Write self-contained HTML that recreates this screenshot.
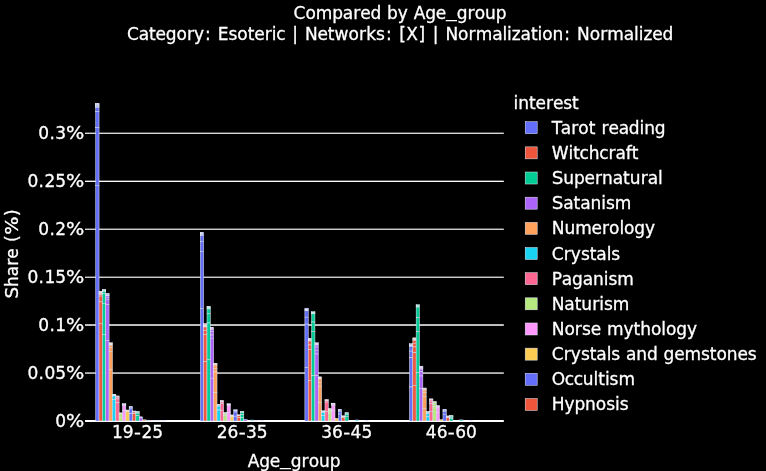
<!DOCTYPE html>
<html lang="en"><head><meta charset="utf-8"><title>Compared by Age_group</title>
<style>html,body{margin:0;padding:0;background:#000;}body{width:766px;height:471px;overflow:hidden;}svg{display:block;}text{font-family:"DejaVu Sans", Verdana, "Liberation Sans", sans-serif;font-size:17px;fill:#fff;stroke:#fff;stroke-width:0.3px;}</style></head><body>
<svg width="766" height="471" viewBox="0 0 766 471">
<rect width="766" height="471" fill="#000"/>
<g fill="#fff">
<rect x="85.0" y="372" width="418.8" height="1" fill-opacity="0.588"/>
<rect x="85.0" y="373" width="418.8" height="1" fill-opacity="0.706"/>
<rect x="85.0" y="324" width="418.8" height="1" fill-opacity="0.725"/>
<rect x="85.0" y="325" width="418.8" height="1" fill-opacity="0.765"/>
<rect x="85.0" y="276" width="418.8" height="1" fill-opacity="0.353"/>
<rect x="85.0" y="277" width="418.8" height="1" fill-opacity="0.804"/>
<rect x="85.0" y="228" width="418.8" height="1" fill-opacity="0.353"/>
<rect x="85.0" y="229" width="418.8" height="1" fill-opacity="0.804"/>
<rect x="85.0" y="180" width="418.8" height="1" fill-opacity="0.353"/>
<rect x="85.0" y="181" width="418.8" height="1" fill-opacity="0.980"/>
<rect x="85.0" y="132" width="418.8" height="1" fill-opacity="0.333"/>
<rect x="85.0" y="133" width="418.8" height="1" fill-opacity="0.843"/>
</g>
<line x1="85.0" x2="503.8" y1="420.90" y2="420.90" stroke="#fff" stroke-width="2"/>
<g stroke="#E5ECF6" stroke-width="0.5">
<rect x="95.71" y="103.40" width="3.35" height="0.55" fill="#636efa"/>
<rect x="95.71" y="103.95" width="3.35" height="0.55" fill="#636efa"/>
<rect x="95.71" y="104.50" width="3.35" height="0.55" fill="#636efa"/>
<rect x="95.71" y="105.05" width="3.35" height="0.55" fill="#636efa"/>
<rect x="95.71" y="105.60" width="3.35" height="0.55" fill="#636efa"/>
<rect x="95.71" y="106.15" width="3.35" height="0.55" fill="#636efa"/>
<rect x="95.71" y="106.70" width="3.35" height="1.10" fill="#636efa"/>
<rect x="95.71" y="107.80" width="3.35" height="4.00" fill="#636efa"/>
<rect x="95.71" y="111.80" width="3.35" height="15.80" fill="#636efa"/>
<rect x="95.71" y="127.60" width="3.35" height="57.70" fill="#636efa"/>
<rect x="95.71" y="185.30" width="3.35" height="235.70" fill="#636efa"/>
<rect x="99.06" y="291.30" width="3.35" height="0.57" fill="#EF553B"/>
<rect x="99.06" y="291.87" width="3.35" height="0.57" fill="#EF553B"/>
<rect x="99.06" y="292.43" width="3.35" height="0.57" fill="#EF553B"/>
<rect x="99.06" y="293.00" width="3.35" height="0.57" fill="#EF553B"/>
<rect x="99.06" y="293.57" width="3.35" height="0.57" fill="#EF553B"/>
<rect x="99.06" y="294.13" width="3.35" height="0.57" fill="#EF553B"/>
<rect x="99.06" y="294.70" width="3.35" height="1.40" fill="#EF553B"/>
<rect x="99.06" y="296.10" width="3.35" height="5.80" fill="#EF553B"/>
<rect x="99.06" y="301.90" width="3.35" height="21.60" fill="#EF553B"/>
<rect x="99.06" y="323.50" width="3.35" height="97.50" fill="#EF553B"/>
<rect x="102.40" y="289.50" width="3.35" height="0.55" fill="#00cc96"/>
<rect x="102.40" y="290.05" width="3.35" height="0.55" fill="#00cc96"/>
<rect x="102.40" y="290.60" width="3.35" height="0.55" fill="#00cc96"/>
<rect x="102.40" y="291.15" width="3.35" height="0.55" fill="#00cc96"/>
<rect x="102.40" y="291.70" width="3.35" height="1.80" fill="#00cc96"/>
<rect x="102.40" y="293.50" width="3.35" height="10.00" fill="#00cc96"/>
<rect x="102.40" y="303.50" width="3.35" height="31.00" fill="#00cc96"/>
<rect x="102.40" y="334.50" width="3.35" height="86.50" fill="#00cc96"/>
<rect x="105.75" y="293.50" width="3.35" height="0.57" fill="#ab63fa"/>
<rect x="105.75" y="294.07" width="3.35" height="0.58" fill="#ab63fa"/>
<rect x="105.75" y="294.65" width="3.35" height="0.57" fill="#ab63fa"/>
<rect x="105.75" y="295.23" width="3.35" height="0.57" fill="#ab63fa"/>
<rect x="105.75" y="295.80" width="3.35" height="1.40" fill="#ab63fa"/>
<rect x="105.75" y="297.20" width="3.35" height="2.00" fill="#ab63fa"/>
<rect x="105.75" y="299.20" width="3.35" height="5.40" fill="#ab63fa"/>
<rect x="105.75" y="304.60" width="3.35" height="36.00" fill="#ab63fa"/>
<rect x="105.75" y="340.60" width="3.35" height="80.40" fill="#ab63fa"/>
<rect x="109.10" y="342.70" width="3.35" height="0.54" fill="#FFA15A"/>
<rect x="109.10" y="343.24" width="3.35" height="0.54" fill="#FFA15A"/>
<rect x="109.10" y="343.78" width="3.35" height="0.54" fill="#FFA15A"/>
<rect x="109.10" y="344.32" width="3.35" height="0.54" fill="#FFA15A"/>
<rect x="109.10" y="344.86" width="3.35" height="0.54" fill="#FFA15A"/>
<rect x="109.10" y="345.40" width="3.35" height="2.10" fill="#FFA15A"/>
<rect x="109.10" y="347.50" width="3.35" height="3.70" fill="#FFA15A"/>
<rect x="109.10" y="351.20" width="3.35" height="18.60" fill="#FFA15A"/>
<rect x="109.10" y="369.80" width="3.35" height="51.20" fill="#FFA15A"/>
<rect x="112.44" y="394.30" width="3.35" height="0.53" fill="#19d3f3"/>
<rect x="112.44" y="394.83" width="3.35" height="0.53" fill="#19d3f3"/>
<rect x="112.44" y="395.37" width="3.35" height="0.53" fill="#19d3f3"/>
<rect x="112.44" y="395.90" width="3.35" height="3.60" fill="#19d3f3"/>
<rect x="112.44" y="399.50" width="3.35" height="21.50" fill="#19d3f3"/>
<rect x="115.79" y="395.90" width="3.35" height="0.65" fill="#FF6692"/>
<rect x="115.79" y="396.55" width="3.35" height="0.65" fill="#FF6692"/>
<rect x="115.79" y="397.20" width="3.35" height="1.80" fill="#FF6692"/>
<rect x="115.79" y="399.00" width="3.35" height="3.70" fill="#FF6692"/>
<rect x="115.79" y="402.70" width="3.35" height="18.30" fill="#FF6692"/>
<rect x="119.14" y="412.80" width="3.35" height="0.65" fill="#B6E880"/>
<rect x="119.14" y="413.45" width="3.35" height="0.65" fill="#B6E880"/>
<rect x="119.14" y="414.10" width="3.35" height="3.70" fill="#B6E880"/>
<rect x="119.14" y="417.80" width="3.35" height="3.20" fill="#B6E880"/>
<rect x="122.48" y="403.70" width="3.35" height="0.50" fill="#FF97FF"/>
<rect x="122.48" y="404.20" width="3.35" height="0.50" fill="#FF97FF"/>
<rect x="122.48" y="404.70" width="3.35" height="0.50" fill="#FF97FF"/>
<rect x="122.48" y="405.20" width="3.35" height="5.30" fill="#FF97FF"/>
<rect x="122.48" y="410.50" width="3.35" height="10.50" fill="#FF97FF"/>
<rect x="125.83" y="410.00" width="3.35" height="0.50" fill="#FECB52"/>
<rect x="125.83" y="410.50" width="3.35" height="0.50" fill="#FECB52"/>
<rect x="125.83" y="411.00" width="3.35" height="0.50" fill="#FECB52"/>
<rect x="125.83" y="411.50" width="3.35" height="9.50" fill="#FECB52"/>
<rect x="129.18" y="406.50" width="3.35" height="0.55" fill="#636efa"/>
<rect x="129.18" y="407.05" width="3.35" height="0.55" fill="#636efa"/>
<rect x="129.18" y="407.60" width="3.35" height="1.30" fill="#636efa"/>
<rect x="129.18" y="408.90" width="3.35" height="4.70" fill="#636efa"/>
<rect x="129.18" y="413.60" width="3.35" height="7.40" fill="#636efa"/>
<rect x="132.52" y="411.00" width="3.35" height="0.55" fill="#EF553B"/>
<rect x="132.52" y="411.55" width="3.35" height="0.55" fill="#EF553B"/>
<rect x="132.52" y="412.10" width="3.35" height="1.50" fill="#EF553B"/>
<rect x="132.52" y="413.60" width="3.35" height="7.40" fill="#EF553B"/>
<rect x="135.87" y="411.50" width="3.35" height="0.57" fill="#00cc96"/>
<rect x="135.87" y="412.07" width="3.35" height="0.57" fill="#00cc96"/>
<rect x="135.87" y="412.63" width="3.35" height="0.57" fill="#00cc96"/>
<rect x="135.87" y="413.20" width="3.35" height="2.50" fill="#00cc96"/>
<rect x="135.87" y="415.70" width="3.35" height="5.30" fill="#00cc96"/>
<rect x="139.22" y="416.80" width="3.35" height="0.55" fill="#ab63fa"/>
<rect x="139.22" y="417.35" width="3.35" height="0.55" fill="#ab63fa"/>
<rect x="139.22" y="417.90" width="3.35" height="3.10" fill="#ab63fa"/>
<rect x="142.56" y="419.80" width="3.35" height="1.20" fill="#FFA15A"/>
<rect x="145.91" y="420.20" width="3.35" height="0.80" fill="#19d3f3"/>
<rect x="149.26" y="420.30" width="3.35" height="0.70" fill="#FF6692"/>
<rect x="152.60" y="420.40" width="3.35" height="0.60" fill="#B6E880"/>
<rect x="155.95" y="420.50" width="3.35" height="0.50" fill="#FF97FF"/>
<rect x="159.30" y="420.60" width="3.35" height="0.40" fill="#FECB52"/>
<rect x="162.64" y="420.70" width="3.35" height="0.30" fill="#636efa"/>
<rect x="200.30" y="232.40" width="3.35" height="0.55" fill="#636efa"/>
<rect x="200.30" y="232.95" width="3.35" height="0.55" fill="#636efa"/>
<rect x="200.30" y="233.50" width="3.35" height="0.55" fill="#636efa"/>
<rect x="200.30" y="234.05" width="3.35" height="0.55" fill="#636efa"/>
<rect x="200.30" y="234.60" width="3.35" height="0.55" fill="#636efa"/>
<rect x="200.30" y="235.15" width="3.35" height="0.55" fill="#636efa"/>
<rect x="200.30" y="235.70" width="3.35" height="5.90" fill="#636efa"/>
<rect x="200.30" y="241.60" width="3.35" height="9.90" fill="#636efa"/>
<rect x="200.30" y="251.50" width="3.35" height="57.00" fill="#636efa"/>
<rect x="200.30" y="308.50" width="3.35" height="112.50" fill="#636efa"/>
<rect x="203.64" y="323.60" width="3.35" height="0.57" fill="#EF553B"/>
<rect x="203.64" y="324.17" width="3.35" height="0.57" fill="#EF553B"/>
<rect x="203.64" y="324.73" width="3.35" height="0.57" fill="#EF553B"/>
<rect x="203.64" y="325.30" width="3.35" height="0.57" fill="#EF553B"/>
<rect x="203.64" y="325.87" width="3.35" height="0.57" fill="#EF553B"/>
<rect x="203.64" y="326.43" width="3.35" height="0.57" fill="#EF553B"/>
<rect x="203.64" y="327.00" width="3.35" height="3.20" fill="#EF553B"/>
<rect x="203.64" y="330.20" width="3.35" height="4.30" fill="#EF553B"/>
<rect x="203.64" y="334.50" width="3.35" height="26.90" fill="#EF553B"/>
<rect x="203.64" y="361.40" width="3.35" height="59.60" fill="#EF553B"/>
<rect x="206.99" y="306.30" width="3.35" height="0.54" fill="#00cc96"/>
<rect x="206.99" y="306.84" width="3.35" height="0.54" fill="#00cc96"/>
<rect x="206.99" y="307.38" width="3.35" height="0.54" fill="#00cc96"/>
<rect x="206.99" y="307.92" width="3.35" height="0.54" fill="#00cc96"/>
<rect x="206.99" y="308.46" width="3.35" height="0.54" fill="#00cc96"/>
<rect x="206.99" y="309.00" width="3.35" height="4.80" fill="#00cc96"/>
<rect x="206.99" y="313.80" width="3.35" height="9.20" fill="#00cc96"/>
<rect x="206.99" y="323.00" width="3.35" height="36.80" fill="#00cc96"/>
<rect x="206.99" y="359.80" width="3.35" height="61.20" fill="#00cc96"/>
<rect x="210.34" y="327.30" width="3.35" height="0.60" fill="#ab63fa"/>
<rect x="210.34" y="327.90" width="3.35" height="0.60" fill="#ab63fa"/>
<rect x="210.34" y="328.50" width="3.35" height="0.60" fill="#ab63fa"/>
<rect x="210.34" y="329.10" width="3.35" height="0.60" fill="#ab63fa"/>
<rect x="210.34" y="329.70" width="3.35" height="2.10" fill="#ab63fa"/>
<rect x="210.34" y="331.80" width="3.35" height="3.20" fill="#ab63fa"/>
<rect x="210.34" y="335.00" width="3.35" height="3.20" fill="#ab63fa"/>
<rect x="210.34" y="338.20" width="3.35" height="40.00" fill="#ab63fa"/>
<rect x="210.34" y="378.20" width="3.35" height="42.80" fill="#ab63fa"/>
<rect x="213.68" y="363.30" width="3.35" height="0.60" fill="#FFA15A"/>
<rect x="213.68" y="363.90" width="3.35" height="0.60" fill="#FFA15A"/>
<rect x="213.68" y="364.50" width="3.35" height="0.60" fill="#FFA15A"/>
<rect x="213.68" y="365.10" width="3.35" height="3.20" fill="#FFA15A"/>
<rect x="213.68" y="368.30" width="3.35" height="3.70" fill="#FFA15A"/>
<rect x="213.68" y="372.00" width="3.35" height="20.50" fill="#FFA15A"/>
<rect x="213.68" y="392.50" width="3.35" height="28.50" fill="#FFA15A"/>
<rect x="217.03" y="404.40" width="3.35" height="0.55" fill="#19d3f3"/>
<rect x="217.03" y="404.95" width="3.35" height="0.55" fill="#19d3f3"/>
<rect x="217.03" y="405.50" width="3.35" height="0.70" fill="#19d3f3"/>
<rect x="217.03" y="406.20" width="3.35" height="3.80" fill="#19d3f3"/>
<rect x="217.03" y="410.00" width="3.35" height="11.00" fill="#19d3f3"/>
<rect x="220.38" y="400.60" width="3.35" height="0.47" fill="#FF6692"/>
<rect x="220.38" y="401.07" width="3.35" height="0.47" fill="#FF6692"/>
<rect x="220.38" y="401.53" width="3.35" height="0.47" fill="#FF6692"/>
<rect x="220.38" y="402.00" width="3.35" height="1.70" fill="#FF6692"/>
<rect x="220.38" y="403.70" width="3.35" height="6.80" fill="#FF6692"/>
<rect x="220.38" y="410.50" width="3.35" height="10.50" fill="#FF6692"/>
<rect x="223.72" y="412.60" width="3.35" height="0.55" fill="#B6E880"/>
<rect x="223.72" y="413.15" width="3.35" height="0.55" fill="#B6E880"/>
<rect x="223.72" y="413.70" width="3.35" height="2.00" fill="#B6E880"/>
<rect x="223.72" y="415.70" width="3.35" height="5.30" fill="#B6E880"/>
<rect x="227.07" y="403.70" width="3.35" height="0.55" fill="#FF97FF"/>
<rect x="227.07" y="404.25" width="3.35" height="0.55" fill="#FF97FF"/>
<rect x="227.07" y="404.80" width="3.35" height="0.90" fill="#FF97FF"/>
<rect x="227.07" y="405.70" width="3.35" height="6.90" fill="#FF97FF"/>
<rect x="227.07" y="412.60" width="3.35" height="8.40" fill="#FF97FF"/>
<rect x="230.42" y="414.90" width="3.35" height="0.55" fill="#FECB52"/>
<rect x="230.42" y="415.45" width="3.35" height="0.55" fill="#FECB52"/>
<rect x="230.42" y="416.00" width="3.35" height="0.80" fill="#FECB52"/>
<rect x="230.42" y="416.80" width="3.35" height="4.20" fill="#FECB52"/>
<rect x="233.76" y="409.70" width="3.35" height="0.55" fill="#636efa"/>
<rect x="233.76" y="410.25" width="3.35" height="0.55" fill="#636efa"/>
<rect x="233.76" y="410.80" width="3.35" height="1.20" fill="#636efa"/>
<rect x="233.76" y="412.00" width="3.35" height="4.20" fill="#636efa"/>
<rect x="233.76" y="416.20" width="3.35" height="4.80" fill="#636efa"/>
<rect x="237.11" y="414.70" width="3.35" height="0.55" fill="#EF553B"/>
<rect x="237.11" y="415.25" width="3.35" height="0.55" fill="#EF553B"/>
<rect x="237.11" y="415.80" width="3.35" height="2.00" fill="#EF553B"/>
<rect x="237.11" y="417.80" width="3.35" height="3.20" fill="#EF553B"/>
<rect x="240.46" y="411.50" width="3.35" height="0.55" fill="#00cc96"/>
<rect x="240.46" y="412.05" width="3.35" height="0.55" fill="#00cc96"/>
<rect x="240.46" y="412.60" width="3.35" height="2.10" fill="#00cc96"/>
<rect x="240.46" y="414.70" width="3.35" height="3.10" fill="#00cc96"/>
<rect x="240.46" y="417.80" width="3.35" height="3.20" fill="#00cc96"/>
<rect x="243.80" y="419.40" width="3.35" height="1.60" fill="#ab63fa"/>
<rect x="250.50" y="420.10" width="3.35" height="0.90" fill="#19d3f3"/>
<rect x="253.85" y="420.60" width="3.35" height="0.40" fill="#FF6692"/>
<rect x="260.54" y="420.30" width="3.35" height="0.70" fill="#FF97FF"/>
<rect x="304.88" y="308.20" width="3.35" height="0.52" fill="#636efa"/>
<rect x="304.88" y="308.72" width="3.35" height="0.52" fill="#636efa"/>
<rect x="304.88" y="309.24" width="3.35" height="0.52" fill="#636efa"/>
<rect x="304.88" y="309.76" width="3.35" height="0.52" fill="#636efa"/>
<rect x="304.88" y="310.28" width="3.35" height="0.52" fill="#636efa"/>
<rect x="304.88" y="310.80" width="3.35" height="6.40" fill="#636efa"/>
<rect x="304.88" y="317.20" width="3.35" height="6.90" fill="#636efa"/>
<rect x="304.88" y="324.10" width="3.35" height="43.50" fill="#636efa"/>
<rect x="304.88" y="367.60" width="3.35" height="53.40" fill="#636efa"/>
<rect x="308.23" y="338.40" width="3.35" height="0.52" fill="#EF553B"/>
<rect x="308.23" y="338.92" width="3.35" height="0.52" fill="#EF553B"/>
<rect x="308.23" y="339.44" width="3.35" height="0.52" fill="#EF553B"/>
<rect x="308.23" y="339.96" width="3.35" height="0.52" fill="#EF553B"/>
<rect x="308.23" y="340.48" width="3.35" height="0.52" fill="#EF553B"/>
<rect x="308.23" y="341.00" width="3.35" height="4.00" fill="#EF553B"/>
<rect x="308.23" y="345.00" width="3.35" height="4.70" fill="#EF553B"/>
<rect x="308.23" y="349.70" width="3.35" height="30.80" fill="#EF553B"/>
<rect x="308.23" y="380.50" width="3.35" height="40.50" fill="#EF553B"/>
<rect x="311.58" y="311.70" width="3.35" height="0.52" fill="#00cc96"/>
<rect x="311.58" y="312.22" width="3.35" height="0.53" fill="#00cc96"/>
<rect x="311.58" y="312.75" width="3.35" height="0.53" fill="#00cc96"/>
<rect x="311.58" y="313.28" width="3.35" height="0.52" fill="#00cc96"/>
<rect x="311.58" y="313.80" width="3.35" height="8.20" fill="#00cc96"/>
<rect x="311.58" y="322.00" width="3.35" height="9.50" fill="#00cc96"/>
<rect x="311.58" y="331.50" width="3.35" height="44.20" fill="#00cc96"/>
<rect x="311.58" y="375.70" width="3.35" height="45.30" fill="#00cc96"/>
<rect x="314.92" y="342.70" width="3.35" height="0.57" fill="#ab63fa"/>
<rect x="314.92" y="343.27" width="3.35" height="0.57" fill="#ab63fa"/>
<rect x="314.92" y="343.85" width="3.35" height="0.58" fill="#ab63fa"/>
<rect x="314.92" y="344.43" width="3.35" height="0.57" fill="#ab63fa"/>
<rect x="314.92" y="345.00" width="3.35" height="2.10" fill="#ab63fa"/>
<rect x="314.92" y="347.10" width="3.35" height="3.10" fill="#ab63fa"/>
<rect x="314.92" y="350.20" width="3.35" height="3.80" fill="#ab63fa"/>
<rect x="314.92" y="354.00" width="3.35" height="21.70" fill="#ab63fa"/>
<rect x="314.92" y="375.70" width="3.35" height="45.30" fill="#ab63fa"/>
<rect x="318.27" y="376.80" width="3.35" height="0.52" fill="#FFA15A"/>
<rect x="318.27" y="377.32" width="3.35" height="0.52" fill="#FFA15A"/>
<rect x="318.27" y="377.85" width="3.35" height="0.53" fill="#FFA15A"/>
<rect x="318.27" y="378.38" width="3.35" height="0.52" fill="#FFA15A"/>
<rect x="318.27" y="378.90" width="3.35" height="3.50" fill="#FFA15A"/>
<rect x="318.27" y="382.40" width="3.35" height="4.10" fill="#FFA15A"/>
<rect x="318.27" y="386.50" width="3.35" height="16.20" fill="#FFA15A"/>
<rect x="318.27" y="402.70" width="3.35" height="18.30" fill="#FFA15A"/>
<rect x="321.62" y="410.70" width="3.35" height="0.55" fill="#19d3f3"/>
<rect x="321.62" y="411.25" width="3.35" height="0.55" fill="#19d3f3"/>
<rect x="321.62" y="411.80" width="3.35" height="0.80" fill="#19d3f3"/>
<rect x="321.62" y="412.60" width="3.35" height="3.10" fill="#19d3f3"/>
<rect x="321.62" y="415.70" width="3.35" height="5.30" fill="#19d3f3"/>
<rect x="324.96" y="399.50" width="3.35" height="0.65" fill="#FF6692"/>
<rect x="324.96" y="400.15" width="3.35" height="0.65" fill="#FF6692"/>
<rect x="324.96" y="400.80" width="3.35" height="1.30" fill="#FF6692"/>
<rect x="324.96" y="402.10" width="3.35" height="9.40" fill="#FF6692"/>
<rect x="324.96" y="411.50" width="3.35" height="9.50" fill="#FF6692"/>
<rect x="328.31" y="408.60" width="3.35" height="0.55" fill="#B6E880"/>
<rect x="328.31" y="409.15" width="3.35" height="0.55" fill="#B6E880"/>
<rect x="328.31" y="409.70" width="3.35" height="1.30" fill="#B6E880"/>
<rect x="328.31" y="411.00" width="3.35" height="2.10" fill="#B6E880"/>
<rect x="328.31" y="413.10" width="3.35" height="7.90" fill="#B6E880"/>
<rect x="331.66" y="403.20" width="3.35" height="0.55" fill="#FF97FF"/>
<rect x="331.66" y="403.75" width="3.35" height="0.55" fill="#FF97FF"/>
<rect x="331.66" y="404.30" width="3.35" height="0.90" fill="#FF97FF"/>
<rect x="331.66" y="405.20" width="3.35" height="5.30" fill="#FF97FF"/>
<rect x="331.66" y="410.50" width="3.35" height="10.50" fill="#FF97FF"/>
<rect x="335.00" y="418.30" width="3.35" height="2.70" fill="#FECB52"/>
<rect x="338.35" y="409.40" width="3.35" height="0.55" fill="#636efa"/>
<rect x="338.35" y="409.95" width="3.35" height="0.55" fill="#636efa"/>
<rect x="338.35" y="410.50" width="3.35" height="1.00" fill="#636efa"/>
<rect x="338.35" y="411.50" width="3.35" height="2.60" fill="#636efa"/>
<rect x="338.35" y="414.10" width="3.35" height="6.90" fill="#636efa"/>
<rect x="341.70" y="415.70" width="3.35" height="0.55" fill="#EF553B"/>
<rect x="341.70" y="416.25" width="3.35" height="0.55" fill="#EF553B"/>
<rect x="341.70" y="416.80" width="3.35" height="1.00" fill="#EF553B"/>
<rect x="341.70" y="417.80" width="3.35" height="3.20" fill="#EF553B"/>
<rect x="345.05" y="412.60" width="3.35" height="0.55" fill="#00cc96"/>
<rect x="345.05" y="413.15" width="3.35" height="0.55" fill="#00cc96"/>
<rect x="345.05" y="413.70" width="3.35" height="1.00" fill="#00cc96"/>
<rect x="345.05" y="414.70" width="3.35" height="2.10" fill="#00cc96"/>
<rect x="345.05" y="416.80" width="3.35" height="4.20" fill="#00cc96"/>
<rect x="355.09" y="420.00" width="3.35" height="1.00" fill="#19d3f3"/>
<rect x="365.13" y="420.30" width="3.35" height="0.70" fill="#FF97FF"/>
<rect x="409.47" y="343.70" width="3.35" height="0.52" fill="#636efa"/>
<rect x="409.47" y="344.22" width="3.35" height="0.52" fill="#636efa"/>
<rect x="409.47" y="344.74" width="3.35" height="0.52" fill="#636efa"/>
<rect x="409.47" y="345.26" width="3.35" height="0.52" fill="#636efa"/>
<rect x="409.47" y="345.78" width="3.35" height="0.52" fill="#636efa"/>
<rect x="409.47" y="346.30" width="3.35" height="4.80" fill="#636efa"/>
<rect x="409.47" y="351.10" width="3.35" height="6.60" fill="#636efa"/>
<rect x="409.47" y="357.70" width="3.35" height="29.30" fill="#636efa"/>
<rect x="409.47" y="387.00" width="3.35" height="34.00" fill="#636efa"/>
<rect x="412.82" y="337.80" width="3.35" height="0.54" fill="#EF553B"/>
<rect x="412.82" y="338.34" width="3.35" height="0.54" fill="#EF553B"/>
<rect x="412.82" y="338.88" width="3.35" height="0.54" fill="#EF553B"/>
<rect x="412.82" y="339.42" width="3.35" height="0.54" fill="#EF553B"/>
<rect x="412.82" y="339.96" width="3.35" height="0.54" fill="#EF553B"/>
<rect x="412.82" y="340.50" width="3.35" height="2.70" fill="#EF553B"/>
<rect x="412.82" y="343.20" width="3.35" height="3.70" fill="#EF553B"/>
<rect x="412.82" y="346.90" width="3.35" height="5.80" fill="#EF553B"/>
<rect x="412.82" y="352.70" width="3.35" height="32.70" fill="#EF553B"/>
<rect x="412.82" y="385.40" width="3.35" height="35.60" fill="#EF553B"/>
<rect x="416.16" y="304.70" width="3.35" height="0.60" fill="#00cc96"/>
<rect x="416.16" y="305.30" width="3.35" height="0.60" fill="#00cc96"/>
<rect x="416.16" y="305.90" width="3.35" height="0.60" fill="#00cc96"/>
<rect x="416.16" y="306.50" width="3.35" height="0.60" fill="#00cc96"/>
<rect x="416.16" y="307.10" width="3.35" height="10.60" fill="#00cc96"/>
<rect x="416.16" y="317.70" width="3.35" height="14.10" fill="#00cc96"/>
<rect x="416.16" y="331.80" width="3.35" height="40.50" fill="#00cc96"/>
<rect x="416.16" y="372.30" width="3.35" height="48.70" fill="#00cc96"/>
<rect x="419.51" y="366.20" width="3.35" height="0.60" fill="#ab63fa"/>
<rect x="419.51" y="366.80" width="3.35" height="0.60" fill="#ab63fa"/>
<rect x="419.51" y="367.40" width="3.35" height="0.60" fill="#ab63fa"/>
<rect x="419.51" y="368.00" width="3.35" height="0.60" fill="#ab63fa"/>
<rect x="419.51" y="368.60" width="3.35" height="0.60" fill="#ab63fa"/>
<rect x="419.51" y="369.20" width="3.35" height="2.60" fill="#ab63fa"/>
<rect x="419.51" y="371.80" width="3.35" height="4.20" fill="#ab63fa"/>
<rect x="419.51" y="376.00" width="3.35" height="12.60" fill="#ab63fa"/>
<rect x="419.51" y="388.60" width="3.35" height="32.40" fill="#ab63fa"/>
<rect x="422.86" y="388.00" width="3.35" height="0.55" fill="#FFA15A"/>
<rect x="422.86" y="388.55" width="3.35" height="0.55" fill="#FFA15A"/>
<rect x="422.86" y="389.10" width="3.35" height="0.55" fill="#FFA15A"/>
<rect x="422.86" y="389.65" width="3.35" height="0.55" fill="#FFA15A"/>
<rect x="422.86" y="390.20" width="3.35" height="2.50" fill="#FFA15A"/>
<rect x="422.86" y="392.70" width="3.35" height="3.70" fill="#FFA15A"/>
<rect x="422.86" y="396.40" width="3.35" height="12.00" fill="#FFA15A"/>
<rect x="422.86" y="408.40" width="3.35" height="12.60" fill="#FFA15A"/>
<rect x="426.21" y="411.50" width="3.35" height="0.55" fill="#19d3f3"/>
<rect x="426.21" y="412.05" width="3.35" height="0.55" fill="#19d3f3"/>
<rect x="426.21" y="412.60" width="3.35" height="1.00" fill="#19d3f3"/>
<rect x="426.21" y="413.60" width="3.35" height="3.20" fill="#19d3f3"/>
<rect x="426.21" y="416.80" width="3.35" height="4.20" fill="#19d3f3"/>
<rect x="429.55" y="398.80" width="3.35" height="0.60" fill="#FF6692"/>
<rect x="429.55" y="399.40" width="3.35" height="0.60" fill="#FF6692"/>
<rect x="429.55" y="400.00" width="3.35" height="1.20" fill="#FF6692"/>
<rect x="429.55" y="401.20" width="3.35" height="2.50" fill="#FF6692"/>
<rect x="429.55" y="403.70" width="3.35" height="7.80" fill="#FF6692"/>
<rect x="429.55" y="411.50" width="3.35" height="9.50" fill="#FF6692"/>
<rect x="432.90" y="401.60" width="3.35" height="0.55" fill="#B6E880"/>
<rect x="432.90" y="402.15" width="3.35" height="0.55" fill="#B6E880"/>
<rect x="432.90" y="402.70" width="3.35" height="1.50" fill="#B6E880"/>
<rect x="432.90" y="404.20" width="3.35" height="2.60" fill="#B6E880"/>
<rect x="432.90" y="406.80" width="3.35" height="14.20" fill="#B6E880"/>
<rect x="436.25" y="405.60" width="3.35" height="0.55" fill="#FF97FF"/>
<rect x="436.25" y="406.15" width="3.35" height="0.55" fill="#FF97FF"/>
<rect x="436.25" y="406.70" width="3.35" height="1.20" fill="#FF97FF"/>
<rect x="436.25" y="407.90" width="3.35" height="4.70" fill="#FF97FF"/>
<rect x="436.25" y="412.60" width="3.35" height="8.40" fill="#FF97FF"/>
<rect x="439.59" y="419.70" width="3.35" height="1.30" fill="#FECB52"/>
<rect x="442.94" y="409.40" width="3.35" height="0.55" fill="#636efa"/>
<rect x="442.94" y="409.95" width="3.35" height="0.55" fill="#636efa"/>
<rect x="442.94" y="410.50" width="3.35" height="1.00" fill="#636efa"/>
<rect x="442.94" y="411.50" width="3.35" height="2.70" fill="#636efa"/>
<rect x="442.94" y="414.20" width="3.35" height="6.80" fill="#636efa"/>
<rect x="446.29" y="415.90" width="3.35" height="0.55" fill="#EF553B"/>
<rect x="446.29" y="416.45" width="3.35" height="0.55" fill="#EF553B"/>
<rect x="446.29" y="417.00" width="3.35" height="0.80" fill="#EF553B"/>
<rect x="446.29" y="417.80" width="3.35" height="3.20" fill="#EF553B"/>
<rect x="449.63" y="415.50" width="3.35" height="0.55" fill="#00cc96"/>
<rect x="449.63" y="416.05" width="3.35" height="0.55" fill="#00cc96"/>
<rect x="449.63" y="416.60" width="3.35" height="0.70" fill="#00cc96"/>
<rect x="449.63" y="417.30" width="3.35" height="1.50" fill="#00cc96"/>
<rect x="449.63" y="418.80" width="3.35" height="2.20" fill="#00cc96"/>
<rect x="459.67" y="419.90" width="3.35" height="1.10" fill="#19d3f3"/>
<rect x="469.71" y="420.30" width="3.35" height="0.70" fill="#FF97FF"/>
</g>
<text y="427.10"><tspan x="55.19" dy="0.00">0</tspan><tspan x="66.01" dy="0.00" textLength="18.29" lengthAdjust="spacingAndGlyphs">%</tspan></text>
<text y="379.15"><tspan x="27.38 38.59 44.38 55.19" dy="0.00">0.05</tspan><tspan x="66.01" dy="0.00" textLength="18.29" lengthAdjust="spacingAndGlyphs">%</tspan></text>
<text y="331.20"><tspan x="38.19 49.40 55.19" dy="0.00">0.1</tspan><tspan x="66.01" dy="0.00" textLength="18.29" lengthAdjust="spacingAndGlyphs">%</tspan></text>
<text y="283.25"><tspan x="27.38 38.59 44.38 55.19" dy="0.00">0.15</tspan><tspan x="66.01" dy="0.00" textLength="18.29" lengthAdjust="spacingAndGlyphs">%</tspan></text>
<text y="235.30"><tspan x="38.19 49.40 55.19" dy="0.00">0.2</tspan><tspan x="66.01" dy="0.00" textLength="18.29" lengthAdjust="spacingAndGlyphs">%</tspan></text>
<text y="187.35"><tspan x="27.38 38.59 44.38 55.19" dy="0.00">0.25</tspan><tspan x="66.01" dy="0.00" textLength="18.29" lengthAdjust="spacingAndGlyphs">%</tspan></text>
<text y="139.40"><tspan x="38.19 49.40 55.19" dy="0.00">0.3</tspan><tspan x="66.01" dy="0.00" textLength="18.29" lengthAdjust="spacingAndGlyphs">%</tspan></text>
<text y="438.40"><tspan x="112.06 122.87" dy="0.00">19</tspan><tspan x="134.08" dy="0.00" textLength="6.93" lengthAdjust="spacingAndGlyphs">-</tspan><tspan x="141.40 152.21" dy="0.00">25</tspan></text>
<text y="438.40"><tspan x="216.65 227.46" dy="0.00">26</tspan><tspan x="238.67" dy="0.00" textLength="6.93" lengthAdjust="spacingAndGlyphs">-</tspan><tspan x="245.99 256.80" dy="0.00">35</tspan></text>
<text y="438.40"><tspan x="321.23 332.05" dy="0.00">36</tspan><tspan x="343.25" dy="0.00" textLength="6.93" lengthAdjust="spacingAndGlyphs">-</tspan><tspan x="350.58 361.39" dy="0.00">45</tspan></text>
<text y="438.40"><tspan x="425.82 436.63" dy="0.00">46</tspan><tspan x="447.84" dy="0.00" textLength="6.93" lengthAdjust="spacingAndGlyphs">-</tspan><tspan x="455.16 465.98" dy="0.00">60</tspan></text>
<text y="466.90"><tspan x="247.66 259.19 269.71" dy="0.00">Age</tspan><tspan x="280.01" dy="-1.70" textLength="10.81" lengthAdjust="spacingAndGlyphs" stroke="none">_</tspan><tspan x="290.72 301.55 308.63 318.98 329.65" dy="1.70">group</tspan></text>
<text y="18.60"><tspan x="293.59 305.41 315.76 332.21 342.81 353.26 360.22 370.41 381.39 386.99 397.68 408.03 413.73 425.26 435.78" dy="0.00">Compared by Age</tspan><tspan x="446.08" dy="-1.70" textLength="10.81" lengthAdjust="spacingAndGlyphs" stroke="none">_</tspan><tspan x="456.79 467.62 474.70 485.05 495.72" dy="1.70">group</tspan></text>
<text y="40.10"><tspan x="126.93 138.69 149.03 155.55 165.74 176.39 186.89 194.01 205.07 212.08 217.78 228.52 237.34 247.71 254.23 264.66 271.75 276.20 285.59 292.28 299.29 304.99 317.54 327.85 334.53 348.40 358.89 366.13 376.08 385.93 392.95 399.18 406.36 418.55 426.01 432.70 439.71 445.41 458.08 468.58 475.69 492.14 502.43 507.08 511.78 520.60 530.93 537.58 542.23 552.59 564.35 571.36 577.05 589.73 600.22 607.34 623.79 634.07 638.73 643.42 652.18 662.38" dy="0.00">Category: Esoteric | Networks: [X] | Normalization: Normalized</tspan></text>
<g transform="translate(17.50,253.70) rotate(-90)"><text y="0.00"><tspan x="-44.85" dy="0.00" textLength="11.62" lengthAdjust="spacingAndGlyphs">S</tspan><tspan x="-33.23 -22.57 -12.11 -5.15 5.43 11.67" dy="0.00">hare (</tspan><tspan x="18.85" dy="0.00" textLength="18.29" lengthAdjust="spacingAndGlyphs">%</tspan><tspan x="37.68" dy="0.00">)</tspan></text></g>
<text y="109.00"><tspan x="513.57 518.25 529.04 535.55 545.98 552.94 563.24 572.11" dy="0.00">interest</tspan></text>
<rect x="525.20" y="121.70" width="12" height="12" fill="#636efa" stroke="#E5ECF6" stroke-width="0.5"/>
<text y="133.70"><tspan x="551.74 560.77 571.22 578.31 588.68 595.66 601.48 608.44 618.64 628.86 639.52 644.20 654.87" dy="0.00">Tarot reading</tspan></text>
<rect x="525.20" y="146.86" width="12" height="12" fill="#EF553B" stroke="#E5ECF6" stroke-width="0.5"/>
<text y="158.86"><tspan x="551.70 568.48 573.19 579.62 588.72 599.24 608.48 615.50 625.82 631.82" dy="0.00">Witchcraft</tspan></text>
<rect x="525.20" y="172.02" width="12" height="12" fill="#00cc96" stroke="#E5ECF6" stroke-width="0.5"/>
<text y="184.02"><tspan x="551.70" dy="0.00" textLength="11.62" lengthAdjust="spacingAndGlyphs">S</tspan><tspan x="563.32 573.99 584.52 594.95 602.06 612.73 623.07 629.74 640.64 647.67 657.95" dy="0.00">upernatural</tspan></text>
<rect x="525.20" y="197.18" width="12" height="12" fill="#ab63fa" stroke="#E5ECF6" stroke-width="0.5"/>
<text y="209.18"><tspan x="551.70" dy="0.00" textLength="11.62" lengthAdjust="spacingAndGlyphs">S</tspan><tspan x="563.23 573.56 580.14 590.45 601.19 605.88 614.73" dy="0.00">atanism</tspan></text>
<rect x="525.20" y="222.34" width="12" height="12" fill="#FFA15A" stroke="#E5ECF6" stroke-width="0.5"/>
<text y="234.34"><tspan x="551.70 564.41 575.17 591.55 601.98 609.07 619.40 624.05 634.30 645.00" dy="0.00">Numerology</tspan></text>
<rect x="525.20" y="247.50" width="12" height="12" fill="#19d3f3" stroke="#E5ECF6" stroke-width="0.5"/>
<text y="259.50"><tspan x="551.70 563.70 570.83 580.89 589.76 596.34 606.63 611.32" dy="0.00">Crystals</tspan></text>
<rect x="525.20" y="272.66" width="12" height="12" fill="#FF6692" stroke="#E5ECF6" stroke-width="0.5"/>
<text y="284.66"><tspan x="551.70 561.85 572.07 582.66 592.97 603.70 608.40 617.24" dy="0.00">Paganism</tspan></text>
<rect x="525.20" y="297.82" width="12" height="12" fill="#B6E880" stroke="#E5ECF6" stroke-width="0.5"/>
<text y="309.82"><tspan x="551.70 564.32 574.65 581.32 592.23 599.32 604.01 612.86" dy="0.00">Naturism</tspan></text>
<rect x="525.20" y="322.98" width="12" height="12" fill="#FF97FF" stroke="#E5ECF6" stroke-width="0.5"/>
<text y="334.98"><tspan x="551.70 564.38 574.87 581.99 590.69 601.27 606.96 623.51 633.59 640.26 650.99 661.32 665.97 676.23 686.92" dy="0.00">Norse mythology</tspan></text>
<rect x="525.20" y="348.14" width="12" height="12" fill="#FECB52" stroke="#E5ECF6" stroke-width="0.5"/>
<text y="360.14"><tspan x="551.70 563.70 570.83 580.89 589.76 596.34 606.63 611.32 620.47 626.06 636.37 647.04 658.02 663.61 674.14 684.43 700.98 709.85 716.49 726.84 737.45 747.74" dy="0.00">Crystals and gemstones</tspan></text>
<rect x="525.20" y="373.30" width="12" height="12" fill="#636efa" stroke="#E5ECF6" stroke-width="0.5"/>
<text y="385.30"><tspan x="551.70 564.83 573.69 582.79 593.52 598.23 604.88 609.57 618.42" dy="0.00">Occultism</tspan></text>
<rect x="525.20" y="398.46" width="12" height="12" fill="#EF553B" stroke="#E5ECF6" stroke-width="0.5"/>
<text y="410.46"><tspan x="551.69 564.47 574.43 585.12 595.84 606.20 615.03 619.72" dy="0.00">Hypnosis</tspan></text>
</svg></body></html>
